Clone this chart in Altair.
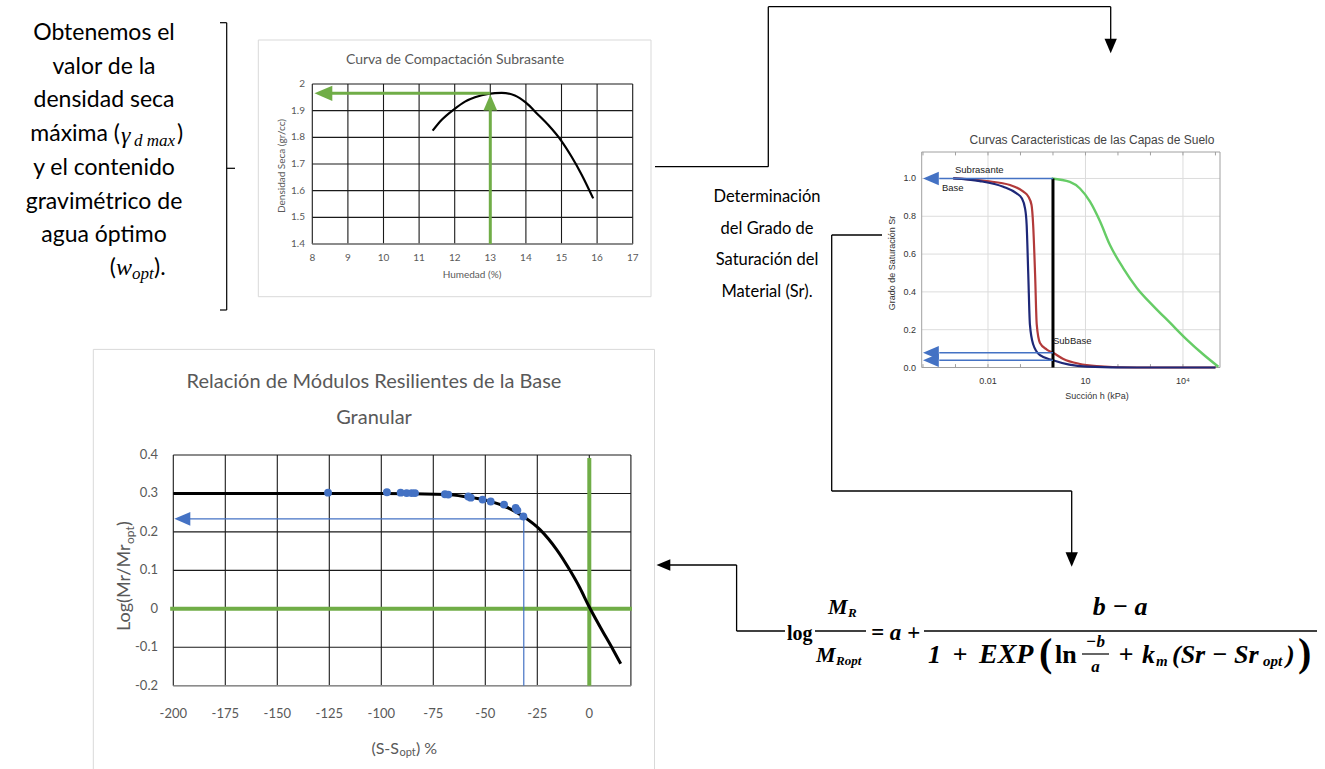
import altair as alt
import pandas as pd

# ===================== DATA =====================
# Panel 1 - Curva de Compactación Subrasante
humedad = [11.38, 11.63, 11.99, 12.29, 12.57, 12.94, 13.32, 13.69, 14.0, 14.35, 14.63, 15.0, 15.28, 15.57, 15.89]
densidad = [1.825, 1.865, 1.906, 1.934, 1.950, 1.963, 1.967, 1.957, 1.930, 1.884, 1.846, 1.786, 1.728, 1.659, 1.571]
comp_x_ticks = [8, 9, 10, 11, 12, 13, 14, 15, 16, 17]
comp_y_ticks = [1.4, 1.5, 1.6, 1.7, 1.8, 1.9, 2.0]
comp_y_labels = ["1.4", "1.5", "1.6", "1.7", "1.8", "1.9", "2"]
w_opt = 13.0
gd_max = 1.965

# Panel 2 - Curvas Características de las Capas de Suelo (log10 h [kPa], Sr)
base_logh = [-3.07, -2.25, -1.53, -1.12, -0.96, -0.86, -0.81, -0.76, -0.71, -0.61, -0.40, 0.0, 0.5, 1.04, 2.58, 5.0]
base_sr = [1.0, 0.986, 0.956, 0.921, 0.895, 0.842, 0.754, 0.491, 0.228, 0.123, 0.065, 0.038, 0.015, 0.005, 0.0, 0.0]
subbase_logh = [-3.07, -2.04, -1.32, -0.91, -0.76, -0.66, -0.61, -0.55, -0.50, -0.40, -0.19, 0.0, 0.32, 0.8, 1.34, 2.58, 5.0]
subbase_sr = [1.0, 0.986, 0.965, 0.93, 0.904, 0.86, 0.754, 0.491, 0.228, 0.13, 0.095, 0.078, 0.045, 0.02, 0.008, 0.0, 0.0]
subr_logh = [-0.04, 0.52, 0.83, 1.14, 1.45, 1.75, 2.16, 2.58, 3.09, 3.60, 4.11, 4.62, 5.09]
subr_sr = [1.0, 0.982, 0.947, 0.877, 0.772, 0.649, 0.526, 0.421, 0.325, 0.237, 0.149, 0.070, 0.004]
ret_x_ticks = [0.01, 10, 10000]
ret_x_labels = ["0.01", "10", "10⁴"]
ret_decades = [1e-4, 1e-3, 1e-2, 1e-1, 1, 10, 100, 1e3, 1e4, 1e5]
ret_y_ticks = [0.0, 0.2, 0.4, 0.6, 0.8, 1.0]
ret_y_labels = ["0.0", "0.2", "0.4", "0.6", "0.8", "1.0"]
h_read = 1.0
sr_read = [1.0, 0.078, 0.038]

# Panel 3 - Relación de Módulos Resilientes de la Base Granular
curve_s = [-200, -150, -100, -68.6, -58.9, -51.0, -41.3, -31.7, -23.7, -15.7, -9.3, -4.5, -0.5, 5.1, 11.5, 15.1]
curve_log = [0.300, 0.300, 0.300, 0.297, 0.291, 0.284, 0.268, 0.240, 0.206, 0.154, 0.100, 0.054, 0.010, -0.046, -0.107, -0.143]
pts_s = [-125.6, -97.3, -90.7, -87.8, -85.4, -83.8, -69.4, -67.8, -58.2, -57.0, -51.3, -47.4, -41.0, -35.4, -34.6, -31.7]
pts_log = [0.302, 0.303, 0.302, 0.301, 0.301, 0.301, 0.298, 0.297, 0.292, 0.289, 0.284, 0.279, 0.271, 0.262, 0.256, 0.240]
mod_x_ticks = [-200, -175, -150, -125, -100, -75, -50, -25, 0]
mod_y_ticks = [-0.2, -0.1, 0.0, 0.1, 0.2, 0.3, 0.4]
mod_y_labels = ["-0.2", "-0.1", "0", "0.1", "0.2", "0.3", "0.4"]
s_read = -31.5
log_read = 0.234

# ===================== LAYOUT / STYLE =====================
W, H = 1325, 769
XC = alt.Scale(domain=[8, 17], range=[312.3, 632.7], nice=False, zero=False)
YC = alt.Scale(domain=[1.4, 2.0], range=[244, 84], nice=False, zero=False)
XR = alt.Scale(type="log", domain=[10 ** -4.04, 10 ** 5.14], range=[921.7, 1220], nice=False)
YR = alt.Scale(domain=[0, 1.14], range=[367.5, 152], nice=False, zero=False)
XB = alt.Scale(domain=[-200, 20], range=[173.3, 630.9], nice=False, zero=False)
YB = alt.Scale(domain=[-0.2, 0.4], range=[685.7, 455], nice=False, zero=False)
PX = None  # identity (pixel) scale for decorations

GREEN = "#70AD47"
BLUE = "#4472C4"
GREY_TXT = "#595959"
WORD = "Lato"
SERIF = "Liberation Serif"
ARIAL = "Liberation Sans"

LEFT = "M0,0L2,-0.85L2,0.85Z"
UP = "M0,0L-0.85,2L0.85,2Z"
DOWN = "M0,0L-0.85,-2L0.85,-2Z"


def ex(f, sc):
    return alt.X(f"{f}:Q", scale=sc, axis=None)


def ey(f, sc):
    return alt.Y(f"{f}:Q", scale=sc, axis=None)


def segs(rows, xs, ys, color, width):
    df = pd.DataFrame(rows, columns=["x", "y", "x2", "y2"])
    return alt.Chart(df).mark_rule(color=color, strokeWidth=width).encode(
        x=ex("x", xs), y=ey("y", ys), x2="x2:Q", y2="y2:Q")


def curve(xv, yv, xs, ys, color, width, interp="monotone"):
    df = pd.DataFrame({"x": xv, "y": yv, "i": list(range(len(xv)))})
    return alt.Chart(df).mark_line(color=color, strokeWidth=width, interpolate=interp).encode(
        x=ex("x", xs), y=ey("y", ys), order="i:Q")


def heads(rows, xs, ys, shape, size, color):
    df = pd.DataFrame(rows, columns=["x", "y"])
    return alt.Chart(df).mark_point(shape=shape, size=size, filled=True, color=color,
                                    opacity=1, strokeWidth=0).encode(x=ex("x", xs), y=ey("y", ys))


def texts(rows, xs, ys, **mk):
    df = pd.DataFrame(rows, columns=["x", "y", "t"])
    mk.setdefault("baseline", "middle")
    return alt.Chart(df).mark_text(**mk).encode(x=ex("x", xs), y=ey("y", ys), text="t:N")


def box(x0, y0, x1, y1, color, width=1):
    df = pd.DataFrame({"x": [x0], "y": [y0], "x2": [x1], "y2": [y1]})
    return alt.Chart(df).mark_rect(fill="white", stroke=color, strokeWidth=width).encode(
        x=ex("x", PX), y=ey("y", PX), x2="x2:Q", y2="y2:Q")


layers = []

# ---------- frames of the pasted charts ----------
layers.append(box(258.3, 40, 651, 296.7, "#d9d9d9"))
layers.append(box(93.3, 349.4, 654.5, 800, "#d9d9d9"))

# ---------- Panel 1 ----------
layers.append(segs([(x, 1.4, x, 2.0) for x in comp_x_ticks], XC, YC, "#1a1a1a", 1.1))
layers.append(segs([(8, y, 17, y) for y in comp_y_ticks], XC, YC, "#1a1a1a", 1.1))
layers.append(segs([(8, 1.4, 17, 1.4)], XC, YC, "#8c8c8c", 1.3))
layers.append(curve(humedad, densidad, XC, YC, "black", 2.2))
layers.append(segs([(w_opt, 1.4, w_opt, 1.93), (w_opt, gd_max, 8.4, gd_max)], XC, YC, GREEN, 3))
layers.append(heads([(w_opt, 1.961)], XC, YC, UP, 260, GREEN))
layers.append(heads([(8.06, gd_max)], XC, YC, LEFT, 320, GREEN))
layers.append(texts([(x, 1.4, str(x)) for x in comp_x_ticks], XC, YC, font=WORD, fontSize=10,
                    color=GREY_TXT, dy=14))
layers.append(texts([(305, y, l) for y, l in zip(comp_y_ticks, comp_y_labels)], PX, YC, font=WORD,
                    fontSize=10, color=GREY_TXT, align="right"))
layers.append(texts([(455, 60, "Curva de Compactación Subrasante")], PX, PX, font=WORD, fontSize=14,
                    color=GREY_TXT))
layers.append(texts([(472, 275, "Humedad (%)")], PX, PX, font=WORD, fontSize=10, color=GREY_TXT))
layers.append(texts([(282, 166, "Densidad Seca (gr/cc)")], PX, PX, font=WORD, fontSize=10,
                    color=GREY_TXT, angle=270))

# ---------- Panel 2 ----------
layers.append(segs([(x, 0, x, 1.14) for x in ret_x_ticks], XR, YR, "#dcdcdc", 1))
layers.append(segs([(10 ** -4.04, y, 10 ** 5.14, y) for y in ret_y_ticks[1:]], XR, YR, "#dcdcdc", 1))
frame_r = pd.DataFrame({"x": [10 ** -4.04], "y": [0.0], "x2": [10 ** 5.14], "y2": [1.14]})
layers.append(alt.Chart(frame_r).mark_rect(fill="transparent", stroke="#a0a0a0", strokeWidth=1).encode(
    x=ex("x", XR), y=ey("y", YR), x2="x2:Q", y2="y2:Q"))
tick_df = pd.DataFrame({"x": ret_decades, "y": [0.0] * len(ret_decades), "y2": [0.018] * len(ret_decades)})
layers.append(alt.Chart(tick_df).mark_rule(color="#a0a0a0", strokeWidth=1).encode(
    x=ex("x", XR), y=ey("y", YR), y2="y2:Q"))
tick_df2 = pd.DataFrame({"x": ret_decades, "y": [1.14] * len(ret_decades), "y2": [1.122] * len(ret_decades)})
layers.append(alt.Chart(tick_df2).mark_rule(color="#a0a0a0", strokeWidth=1).encode(
    x=ex("x", XR), y=ey("y", YR), y2="y2:Q"))
layers.append(curve([10 ** v for v in subr_logh], subr_sr, XR, YR, "#66CC66", 2.4))
layers.append(curve([10 ** v for v in subbase_logh], subbase_sr, XR, YR, "#B23A3A", 2.2))
layers.append(curve([10 ** v for v in base_logh], base_sr, XR, YR, "#1E2878", 2.2))
layers.append(segs([(h_read, 0, h_read, 1.0)], XR, YR, "black", 3))
layers.append(segs([(h_read, s, 10 ** -3.5, s) for s in sr_read], XR, YR, BLUE, 1.6))
layers.append(heads([(10 ** -4.0, s) for s in sr_read], XR, YR, LEFT, 250, BLUE))
layers.append(texts([(x, 0, l) for x, l in zip(ret_x_ticks, ret_x_labels)], XR, YR, font=ARIAL,
                    fontSize=9, color="#333333", dy=13))
layers.append(texts([(916, y, l) for y, l in zip(ret_y_ticks, ret_y_labels)], PX, YR, font=ARIAL,
                    fontSize=9, color="#333333", align="right"))
layers.append(texts([(1092, 140, "Curvas Caracteristicas de las Capas de Suelo")], PX, PX, font=ARIAL,
                    fontSize=12, color="#444444"))
layers.append(texts([(1097, 396, "Succión h (kPa)")], PX, PX, font=ARIAL, fontSize=9, color="#333333"))
layers.append(texts([(892, 263, "Grado de Saturación Sr")], PX, PX, font=ARIAL, fontSize=9,
                    color="#333333", angle=270))
layers.append(texts([(955, 170, "Subrasante"), (942, 188, "Base"), (1053, 341, "SubBase")], PX, PX,
                    font=ARIAL, fontSize=9.5, color="#222222", align="left"))

# ---------- Panel 3 ----------
layers.append(segs([(x, -0.2, x, 0.4) for x in mod_x_ticks + [20]], XB, YB, "#1a1a1a", 1.1))
layers.append(segs([(-200, y, 20, y) for y in mod_y_ticks], XB, YB, "#1a1a1a", 1.1))
layers.append(segs([(-200, -0.2, 20, -0.2)], XB, YB, "#8c8c8c", 1.3))
layers.append(segs([(-201.5, 0, 20.5, 0), (0, -0.2, 0, 0.392)], XB, YB, GREEN, 4))
layers.append(segs([(s_read, -0.2, s_read, log_read), (s_read, log_read, -195, log_read)], XB, YB, BLUE, 1.2))
layers.append(heads([(-199.5, log_read)], XB, YB, LEFT, 256, BLUE))
layers.append(curve(curve_s, curve_log, XB, YB, "black", 3))
pts_df = pd.DataFrame({"x": pts_s, "y": pts_log})
layers.append(alt.Chart(pts_df).mark_circle(size=62, color=BLUE, opacity=1).encode(
    x=ex("x", XB), y=ey("y", YB)))
layers.append(texts([(x, -0.2, str(x)) for x in mod_x_ticks], XB, YB, font=WORD, fontSize=13,
                    color=GREY_TXT, dy=28))
layers.append(texts([(158, y, l) for y, l in zip(mod_y_ticks, mod_y_labels)], PX, YB, font=WORD,
                    fontSize=13, color=GREY_TXT, align="right"))
layers.append(texts([(374, 382, "Relación de Módulos Resilientes de la Base"), (374, 418, "Granular")],
                    PX, PX, font=WORD, fontSize=20, color=GREY_TXT))
# y title Log(Mr/Mr_opt) composed (rotated)
layers.append(texts([(125, 631, "Log(Mr/Mr")], PX, PX, font=WORD, fontSize=18, color=GREY_TXT,
                    angle=270, align="left"))
layers.append(texts([(130, 544, "opt")], PX, PX, font=WORD, fontSize=12, color=GREY_TXT,
                    angle=270, align="left"))
layers.append(texts([(125, 526, ")")], PX, PX, font=WORD, fontSize=18, color=GREY_TXT,
                    angle=270, align="left"))
# x title (S-S_opt) %
layers.append(texts([(399, 749, "(S-S")], PX, PX, font=WORD, fontSize=16, color=GREY_TXT, align="right"))
layers.append(texts([(399.5, 753, "opt")], PX, PX, font=WORD, fontSize=11, color=GREY_TXT, align="left"))
layers.append(texts([(416, 749, ") %")], PX, PX, font=WORD, fontSize=16, color=GREY_TXT, align="left"))

# ---------- Text blocks ----------
left_lines = [(104, 33, "Obtenemos el"), (104, 67, "valor de la"), (104, 100, "densidad seca"),
              (104, 168, "y el contenido"), (104, 202, "gravimétrico de"), (104, 235, "agua óptimo")]
layers.append(texts(left_lines, PX, PX, font=WORD, fontSize=23, color="black"))
layers.append(texts([(120, 134, "máxima (")], PX, PX, font=WORD, fontSize=23, color="black", align="right"))
layers.append(texts([(121, 136, "γ")], PX, PX, font=SERIF, fontSize=24, fontStyle="italic", color="black",
                    align="left"))
layers.append(texts([(134, 141, "d max")], PX, PX, font=SERIF, fontSize=17, fontStyle="italic",
                    color="black", align="left"))
layers.append(texts([(177, 134, ")")], PX, PX, font=WORD, fontSize=23, color="black", align="left"))
layers.append(texts([(116, 268, "(")], PX, PX, font=WORD, fontSize=23, color="black", align="right"))
layers.append(texts([(116, 268, "w")], PX, PX, font=SERIF, fontSize=24, fontStyle="italic", color="black",
                    align="left"))
layers.append(texts([(132, 274, "opt")], PX, PX, font=SERIF, fontSize=17, fontStyle="italic", color="black",
                    align="left"))
layers.append(texts([(154, 268, ").")], PX, PX, font=WORD, fontSize=23, color="black", align="left"))

mid_lines = [(767, 197, "Determinación"), (767, 228.5, "del Grado de"), (767, 260, "Saturación del"),
             (767, 291.7, "Material (Sr).")]
layers.append(texts(mid_lines, PX, PX, font=WORD, fontSize=16.5, color="black"))

# bracket
layers.append(segs([(226.7, 22.7, 226.7, 310), (220, 22.7, 226.7, 22.7), (220, 310, 226.7, 310),
                    (226.7, 168.3, 235, 168.3)], PX, PX, "black", 1.2))

# ---------- connectors ----------
layers.append(segs([(655, 166.7, 768.3, 166.7), (768.3, 166.7, 768.3, 6.7), (768.3, 6.7, 1110.7, 6.7),
                    (1110.7, 6.7, 1110.7, 42)], PX, PX, "black", 1.3))
layers.append(heads([(1110.7, 53.3)], PX, PX, DOWN, 210, "black"))
layers.append(segs([(882, 235, 831.7, 235), (831.7, 235, 831.7, 491), (831.7, 491, 1071.7, 491),
                    (1071.7, 491, 1071.7, 556)], PX, PX, "black", 1.3))
layers.append(heads([(1071.7, 566.7)], PX, PX, DOWN, 210, "black"))
layers.append(segs([(668, 565, 736.6, 565), (736.6, 565, 736.6, 631), (736.6, 631, 785, 631)],
                   PX, PX, "black", 1.3))
layers.append(heads([(656.5, 565)], PX, PX, LEFT, 190, "black"))

# ---------- formula ----------
FS = 26
fm = dict(font=SERIF, color="black", fontWeight="bold")
it = dict(fontStyle="italic", **fm)
YM, YN, YD, YBAR = 633, 607, 655, 631
layers.append(texts([(787, YM + 1, "log")], PX, PX, fontSize=20, align="left", **fm))
layers.append(segs([(815, YBAR, 866, YBAR), (924, YBAR, 1317, YBAR)], PX, PX, "black", 1.3))
layers.append(texts([(828, YN, "M")], PX, PX, fontSize=22, align="left", **it))
layers.append(texts([(848, YN + 6, "R")], PX, PX, fontSize=13, align="left", **it))
layers.append(texts([(816, YD, "M")], PX, PX, fontSize=22, align="left", **it))
layers.append(texts([(836, YD + 6, "Ropt")], PX, PX, fontSize=13, align="left", **it))
layers.append(texts([(871, YM, "= a +")], PX, PX, fontSize=23, align="left", **it))
layers.append(texts([(1120, YN, "b − a")], PX, PX, fontSize=FS, align="center", **it))
layers.append(texts([(928, YD, "1")], PX, PX, fontSize=FS, align="left", **it))
layers.append(texts([(960, YD, "+")], PX, PX, fontSize=FS, align="center", **it))
layers.append(texts([(979, YD, "EXP")], PX, PX, fontSize=28, align="left", **it))
layers.append(texts([(1039, YD - 1, "(")], PX, PX, fontSize=40, align="left", **fm))
layers.append(texts([(1055, YD, "ln")], PX, PX, fontSize=FS, align="left", **fm))
layers.append(segs([(1082, YD - 1, 1109, YD - 1)], PX, PX, "black", 1.2))
layers.append(texts([(1095.5, YD - 13, "−b")], PX, PX, fontSize=17, align="center", **it))
layers.append(texts([(1095.5, YD + 12, "a")], PX, PX, fontSize=17, align="center", **it))
layers.append(texts([(1126, YD, "+")], PX, PX, fontSize=FS, align="center", **it))
layers.append(texts([(1142, YD, "k")], PX, PX, fontSize=FS, align="left", **it))
layers.append(texts([(1156, YD + 6, "m")], PX, PX, fontSize=15, align="left", **it))
layers.append(texts([(1172, YD, "(Sr − Sr")], PX, PX, fontSize=FS, align="left", **it))
layers.append(texts([(1263, YD + 6, "opt")], PX, PX, fontSize=15, align="left", **it))
layers.append(texts([(1286, YD, ")")], PX, PX, fontSize=FS, align="left", **it))
layers.append(texts([(1298, YD - 1, ")")], PX, PX, fontSize=40, align="left", **fm))

chart = alt.layer(*layers).resolve_scale(x="independent", y="independent").properties(
    width=W, height=H, autosize=alt.AutoSizeParams(type="none"), padding=0, background="white"
).configure_view(stroke="transparent")

chart.save("out.html", embed_options={"renderer": "svg", "actions": False})
